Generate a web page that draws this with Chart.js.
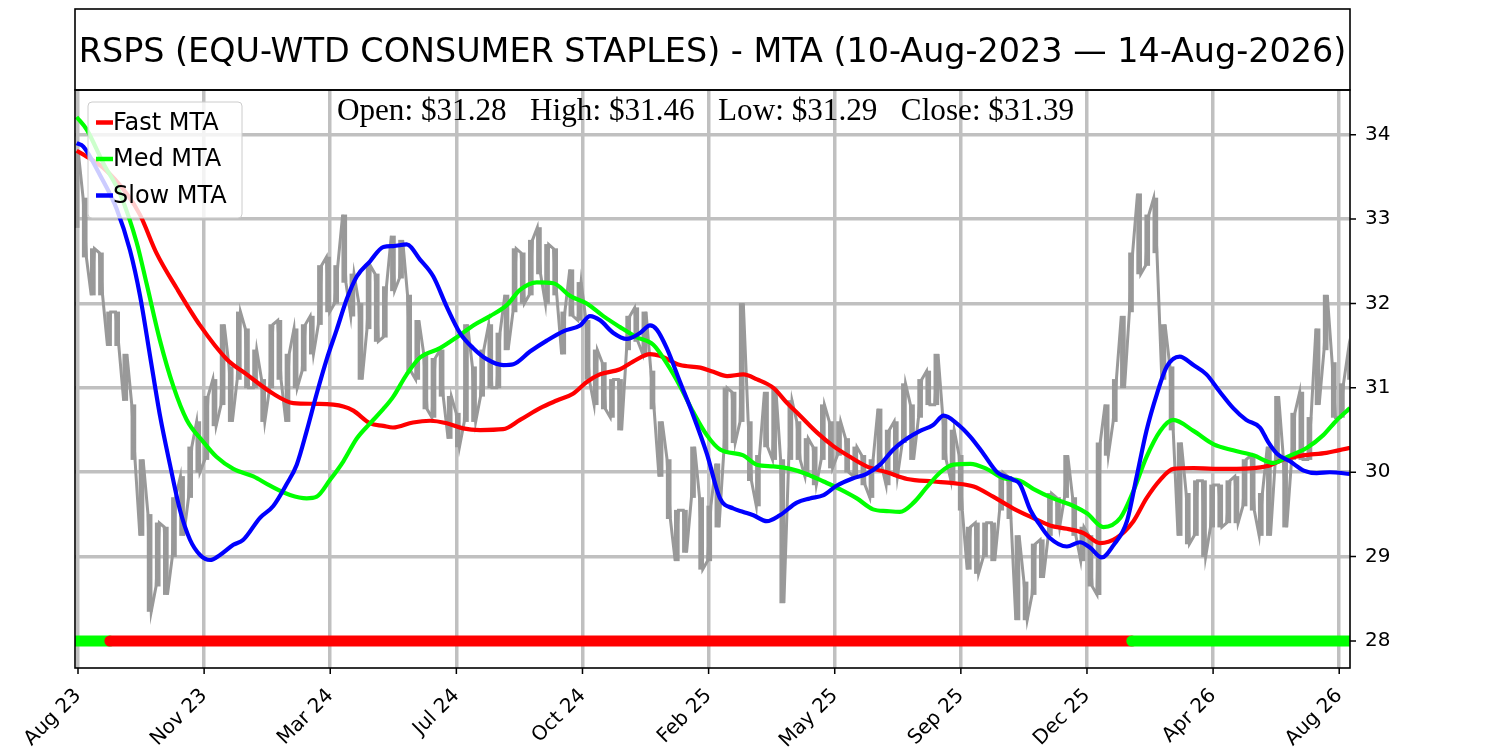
<!DOCTYPE html>
<html>
<head>
<meta charset="utf-8">
<script src="https://cdn.jsdelivr.net/npm/chart.js@4.4.0/dist/chart.umd.min.js"></script>
<style>
  html, body { margin: 0; padding: 0; background: #fff; }
  #wrap { width: 1500px; height: 750px; }
</style>
</head>
<body>
<div id="wrap"><canvas id="chart" width="1500" height="750"></canvas></div>
<script>
// x axis runs in weeks from 10-Aug-2023 (week 0) to 14-Aug-2026 (week 157)
const tickLabels = ['Aug 23', 'Nov 23', 'Mar 24', 'Jul 24', 'Oct 24', 'Feb 25', 'May 25', 'Sep 25', 'Dec 25', 'Apr 26', 'Aug 26'];
const tickWeeks = [0.17, 15.72, 31.27, 46.82, 62.37, 77.92, 93.47, 109.02, 124.57, 140.12, 155.67];
const priceTicks = [28, 29, 30, 31, 32, 33, 34];

// weekly price range (low / high), week 0..157
const weekLow = [
  32.9, 32.55, 32.1, 32.1, 31.5, 31.5, 30.85, 30.15, 29.25, 28.35,
  28.65, 28.55, 29.0, 29.25, 29.7, 30.0, 30.15, 30.55, 30.8, 30.6,
  31.1, 31.0, 31.0, 30.6, 31.0, 31.1, 30.6, 31.0, 31.2, 31.4,
  31.75, 31.9, 32.0, 32.25, 31.85, 31.1, 31.7, 31.55, 31.6, 32.15,
  32.3, 31.2, 31.1, 30.75, 30.65, 30.9, 30.4, 30.3, 30.6, 30.6,
  30.9, 31.0, 31.0, 31.45, 31.9, 32.0, 32.1, 32.35, 32.0, 32.1,
  31.4, 31.85, 31.8, 31.1, 30.8, 30.75, 30.65, 30.5, 31.45, 31.55,
  31.4, 30.75, 29.95, 29.45, 28.95, 29.05, 29.7, 28.85, 28.95, 29.35,
  30.25, 30.35, 30.6, 29.9, 29.6, 30.3, 30.15, 28.45, 30.15, 30.15,
  29.95, 29.85, 30.15, 30.05, 30.2, 30.0, 29.95, 29.85, 29.7, 30.1,
  29.85, 29.95, 30.35, 30.15, 30.65, 30.8, 30.8, 30.15, 29.9, 29.55,
  28.85, 28.8, 29.0, 28.95, 29.55, 29.45, 28.25, 28.25, 28.55, 28.75,
  29.25, 29.35, 29.7, 29.25, 28.95, 28.65, 28.55, 30.2, 30.6, 31.0,
  31.9, 32.35, 32.45, 32.6, 31.1, 30.5, 29.25, 29.15, 29.25, 29.0,
  29.35, 29.35, 29.4, 29.4, 29.6, 29.55, 29.25, 29.25, 30.15, 29.35,
  30.15, 30.15, 30.15, 30.8, 31.45, 30.65, 30.65, 31.1
];
const weekHigh = [
  33.8, 33.25, 32.65, 32.6, 31.9, 31.9, 31.4, 30.8, 30.15, 29.5,
  29.4, 29.35, 29.7, 29.95, 30.3, 30.6, 30.9, 31.1, 31.75, 31.25,
  31.9, 31.7, 31.45, 31.1, 31.75, 31.8, 31.4, 31.7, 31.75, 31.85,
  32.45, 32.55, 32.45, 33.05, 32.35, 32.0, 32.45, 32.35, 32.2, 32.8,
  32.75, 32.1, 31.8, 31.4, 31.35, 31.45, 30.9, 30.7, 31.75, 31.25,
  31.45, 31.75, 31.65, 32.1, 32.65, 32.6, 32.75, 32.9, 32.7, 32.65,
  31.9, 32.4, 32.25, 31.8, 31.45, 31.3, 31.1, 31.1, 31.85, 31.95,
  31.9, 31.2, 30.6, 30.15, 29.55, 29.55, 30.3, 29.7, 29.6, 30.1,
  31.0, 30.95, 32.0, 30.6, 30.2, 30.95, 31.0, 30.15, 30.85, 30.6,
  30.4, 30.3, 30.8, 30.6, 30.6, 30.4, 30.3, 30.2, 30.15, 30.75,
  30.5, 30.6, 31.05, 30.8, 31.1, 31.2, 31.4, 30.65, 30.5, 30.2,
  29.35, 29.4, 29.4, 29.4, 30.0, 29.95, 29.25, 28.7, 29.15, 29.2,
  29.75, 29.7, 30.2, 29.7, 29.35, 29.25, 30.35, 30.8, 31.1, 31.85,
  32.6, 33.3, 33.05, 33.25, 31.75, 31.25, 30.35, 29.75, 29.9, 29.9,
  29.85, 29.85, 29.9, 29.95, 30.15, 30.2, 29.75, 30.3, 30.9, 30.15,
  30.7, 30.95, 30.65, 31.7, 32.1, 31.3, 31.05, 31.45
];

// moving trend averages, sampled at week positions
const fastWeek = [0, 1.25, 3.26, 6.18, 7.82, 9.88, 12.34, 15.22, 18.51, 20.97, 24.25, 26.72, 29.6, 32.89, 34.12, 36.18, 37.82, 39.0, 41.48, 43.58,
  45.64, 47.64, 49.74, 52.58, 54.67, 57.14, 59.2, 61.2, 62.9, 64.5, 67.0, 68.6, 70.7, 71.9, 74.4, 76.9, 78.5, 80.2, 82.2, 83.9,
  85.9, 87.6, 89.2, 91.3, 93.3, 95.4, 97.4, 99.9, 102.4, 105.6, 108.1, 110.6, 113.0, 115.5, 117.9, 120.0, 122.1, 124.1, 126.2, 128.2,
  130.3, 131.9, 133.6, 135.2, 137.7, 140.1, 143.0, 146.7, 148.8, 151.2, 154.1, 157];
const fastMTA = [33.81, 33.74, 33.61, 33.3, 33.05, 32.59, 32.18, 31.74, 31.34, 31.16, 30.93, 30.82, 30.81, 30.78, 30.73, 30.58, 30.55, 30.53, 30.59, 30.61,
  30.58, 30.52, 30.5, 30.51, 30.62, 30.76, 30.85, 30.93, 31.07, 31.16, 31.22, 31.31, 31.4, 31.38, 31.27, 31.24, 31.19, 31.14, 31.16, 31.1,
  31.0, 30.82, 30.67, 30.47, 30.31, 30.18, 30.07, 30.0, 29.92, 29.89, 29.87, 29.83, 29.71, 29.57, 29.46, 29.37, 29.33, 29.28, 29.16, 29.22,
  29.42, 29.69, 29.91, 30.04, 30.05, 30.04, 30.04, 30.07, 30.15, 30.2, 30.23, 30.29];

const medWeek = [0, 1.25, 3.3, 5.35, 7.41, 8.64, 10.28, 11.92, 13.58, 15.62, 17.27, 19.32, 21.79, 23.85, 26.31, 28.37, 29.6, 31.25, 32.89, 34.54,
  36.18, 37.82, 39.0, 40.7, 42.34, 44.8, 46.87, 48.9, 50.97, 53.03, 54.67, 56.73, 58.78, 60.84, 62.9, 64.94, 67.0, 69.06, 71.1, 72.76,
  74.4, 76.04, 77.7, 79.33, 82.2, 83.86, 85.9, 88.0, 90.0, 92.1, 94.1, 96.2, 98.2, 99.9, 101.5, 103.2, 104.8, 106.5, 108.1, 110.2,
  112.2, 114.3, 116.3, 118.0, 120.4, 122.9, 124.6, 126.6, 128.7, 130.3, 131.9, 133.6, 135.2, 137.7, 140.2, 142.6, 145.1, 147.6, 149.2, 151.7,
  153.7, 155.4, 157];
const medMTA = [34.21, 34.06, 33.66, 33.3, 32.72, 32.23, 31.56, 31.02, 30.62, 30.36, 30.18, 30.04, 29.95, 29.84, 29.73, 29.69, 29.71, 29.91, 30.13, 30.4,
  30.58, 30.75, 30.89, 31.16, 31.36, 31.47, 31.6, 31.74, 31.85, 31.98, 32.16, 32.25, 32.24, 32.09, 32.0, 31.85, 31.72, 31.6, 31.51, 31.29,
  31.02, 30.71, 30.44, 30.27, 30.2, 30.09, 30.07, 30.04, 29.98, 29.89, 29.8, 29.69, 29.56, 29.54, 29.53, 29.64, 29.82, 30.0, 30.09, 30.1,
  30.04, 29.93, 29.9, 29.8, 29.69, 29.6, 29.51, 29.35, 29.46, 29.78, 30.18, 30.49, 30.62, 30.49, 30.33, 30.26, 30.2, 30.11, 30.18, 30.29,
  30.44, 30.62, 30.76];

const slowWeek = [0, 0.83, 2.89, 4.94, 6.58, 7.82, 9.05, 10.28, 11.51, 12.75, 13.98, 15.22, 16.45, 17.68, 19.32, 20.55, 22.61, 24.25, 25.9, 27.14,
  28.37, 29.6, 30.84, 32.07, 33.3, 34.54, 36.18, 37.82, 39.05, 40.7, 42.34, 43.98, 45.64, 47.27, 48.9, 50.57, 52.6, 53.85, 55.9, 57.97,
  60.0, 62.07, 63.3, 64.54, 66.18, 67.83, 69.47, 70.7, 71.53, 72.76, 74.4, 76.04, 77.7, 79.33, 80.97, 82.2, 83.44, 85.1, 86.7, 88.8,
  90.4, 92.1, 93.7, 95.8, 97.4, 99.06, 100.7, 102.4, 104.0, 105.6, 106.9, 108.5, 110.2, 111.8, 113.5, 115.5, 116.3, 117.6, 118.8, 120.0,
  122.1, 123.7, 124.9, 126.4, 127.8, 129.5, 130.7, 131.9, 133.2, 134.4, 136.0, 137.7, 139.3, 140.9, 142.6, 144.2, 145.9, 146.9, 148.0, 149.6,
  151.3, 152.9, 154.5, 157];
const slowMTA = [33.9, 33.86, 33.52, 33.12, 32.63, 32.09, 31.38, 30.67, 30.09, 29.55, 29.2, 29.02, 28.96, 29.02, 29.14, 29.2, 29.46, 29.6, 29.86, 30.09,
  30.49, 30.93, 31.34, 31.69, 32.05, 32.32, 32.5, 32.67, 32.68, 32.7, 32.52, 32.32, 31.96, 31.65, 31.47, 31.34, 31.27, 31.28, 31.43, 31.56,
  31.67, 31.74, 31.85, 31.8, 31.65, 31.58, 31.65, 31.74, 31.69, 31.47, 31.07, 30.67, 30.22, 29.69, 29.57, 29.53, 29.49, 29.42, 29.49, 29.64,
  29.69, 29.73, 29.84, 29.93, 29.98, 30.09, 30.27, 30.4, 30.49, 30.56, 30.67, 30.58, 30.42, 30.22, 30.0, 29.91, 29.86, 29.55, 29.37, 29.22,
  29.12, 29.17, 29.11, 28.99, 29.13, 29.42, 29.95, 30.49, 30.93, 31.25, 31.37, 31.27, 31.16, 30.96, 30.76, 30.62, 30.53, 30.36, 30.22, 30.13,
  30.02, 29.99, 30.0, 29.98];

// trend signal strip along the 28 line
const signalFrom = [-0.2, 4.1, 130.1];
const signalTo = [4.1, 130.1, 157.0];
const signalState = ['up', 'down', 'up'];
const signalLevel = 28;

const lastBar = { open: 31.28, high: 31.46, low: 31.29, close: 31.39 };

function zip(xs, ys) {
  const n = Math.min(xs.length, ys.length);
  const out = [];
  for (let i = 0; i < n; i++) out.push({ x: xs[i], y: ys[i] });
  return out;
}

// each week drawn as a near-vertical low/high stroke, alternating direction
const pricePts = [];
weekLow.forEach(function(lo, w) {
  const hi = weekHigh[w];
  if (w % 2 === 0) pricePts.push({ x: w - 0.2, y: lo }, { x: w + 0.2, y: hi });
  else pricePts.push({ x: w - 0.2, y: hi }, { x: w + 0.2, y: lo });
});
const priceRanges = weekLow.map(function(lo, w) { return { x: w, y: [lo, weekHigh[w]] }; });

const COL = { fast: '#ff0000', med: '#00ff00', slow: '#0000ff', price: '#999999', up: '#00ff00', down: '#ff0000' };
const GRID = '#c0c0c0';

function mtaSet(label, pts, color, order) {
  return {
    label: label, data: pts, borderColor: color, borderWidth: 4.2,
    pointRadius: 0, fill: false, cubicInterpolationMode: 'monotone',
    clip: 0, order: order
  };
}

const datasets = [
  mtaSet('Slow MTA', zip(slowWeek, slowMTA), COL.slow, 1),
  mtaSet('Med MTA', zip(medWeek, medMTA), COL.med, 2),
  mtaSet('Fast MTA', zip(fastWeek, fastMTA), COL.fast, 3)
];
signalState.forEach(function(s, i) {
  datasets.push({
    label: 'signal', data: [{ x: signalFrom[i], y: signalLevel }, { x: signalTo[i], y: signalLevel }],
    borderColor: COL[s], borderWidth: 11, borderCapStyle: 'round', pointRadius: 0,
    clip: 0, order: 10 - i
  });
});
datasets.push({
  label: 'Price', data: pricePts, borderColor: COL.price, borderWidth: 3,
  pointRadius: 0, tension: 0, clip: 0, order: 20
});
datasets.push({
  type: 'bar', label: 'Range', data: priceRanges, backgroundColor: COL.price,
  borderWidth: 0, barThickness: 5, grouped: false, clip: 0, order: 21
});

const framePlugin = {
  id: 'frame',
  afterDatasetsDraw(chart) {
    const ctx = chart.ctx;
    const a = chart.chartArea;
    const sx = chart.scales.x, sy = chart.scales.y;
    ctx.save();
    // plot frame
    ctx.strokeStyle = '#000';
    ctx.lineWidth = 1.6;
    ctx.strokeRect(a.left, a.top, a.right - a.left, a.bottom - a.top);
    // outward tick marks
    ctx.lineWidth = 1.5;
    ctx.beginPath();
    tickWeeks.forEach(function(v) {
      const px = sx.getPixelForValue(v);
      ctx.moveTo(px, a.bottom);
      ctx.lineTo(px, a.bottom + 6);
    });
    priceTicks.forEach(function(v) {
      const py = sy.getPixelForValue(v);
      ctx.moveTo(a.right, py);
      ctx.lineTo(a.right + 6, py);
    });
    ctx.stroke();
    // title box
    ctx.lineWidth = 1.6;
    ctx.strokeRect(a.left, 9, a.right - a.left, a.top - 9);
    ctx.fillStyle = '#000';
    ctx.font = '33.4px "DejaVu Sans"';
    ctx.textAlign = 'center';
    ctx.textBaseline = 'alphabetic';
    ctx.fillText('RSPS (EQU-WTD CONSUMER STAPLES) - MTA (10-Aug-2023 \u2014 14-Aug-2026)', (a.left + a.right) / 2, 62);
    // last bar summary
    ctx.font = '31.2px "Liberation Serif"';
    const txt = 'Open: $' + lastBar.open.toFixed(2) + '   High: $' + lastBar.high.toFixed(2) +
      '   Low: $' + lastBar.low.toFixed(2) + '   Close: $' + lastBar.close.toFixed(2);
    ctx.fillText(txt, 705.5, 120);
    // legend
    const lx = 88, ly = 102, lw = 154, lh = 116;
    ctx.beginPath();
    ctx.roundRect(lx, ly, lw, lh, 4);
    ctx.fillStyle = 'rgba(255,255,255,0.8)';
    ctx.fill();
    ctx.strokeStyle = '#cccccc';
    ctx.lineWidth = 1;
    ctx.stroke();
    const items = [['Fast MTA', COL.fast], ['Med MTA', COL.med], ['Slow MTA', COL.slow]];
    ctx.font = '24px "DejaVu Sans"';
    ctx.textAlign = 'left';
    ctx.textBaseline = 'middle';
    items.forEach(function(it, i) {
      const y = 122.5 + i * 36.5;
      ctx.strokeStyle = it[1];
      ctx.lineWidth = 4.5;
      ctx.beginPath();
      ctx.moveTo(96, y);
      ctx.lineTo(113, y);
      ctx.stroke();
      ctx.fillStyle = '#000';
      ctx.fillText(it[0], 113, y + 1);
    });
    ctx.restore();
  }
};

new Chart(document.getElementById('chart'), {
  type: 'line',
  data: { datasets: datasets },
  options: {
    responsive: false,
    animation: false,
    devicePixelRatio: 1,
    layout: { padding: { left: 75, top: 90, right: 0, bottom: 0 } },
    plugins: { legend: { display: false }, tooltip: { enabled: false } },
    scales: {
      x: {
        type: 'linear', min: -0.2, max: 157.0, offset: false,
        afterBuildTicks: function(s) { s.ticks = tickWeeks.map(function(v) { return { value: v }; }); },
        afterFit: function(s) { s.height = 82; },
        grid: { color: GRID, lineWidth: 3.5, drawTicks: false, offset: false },
        border: { display: false },
        ticks: {
          autoSkip: false, maxRotation: 45, minRotation: 45, padding: 16, color: '#000',
          font: { family: 'DejaVu Sans', size: 20 },
          callback: function(v, i) { return tickLabels[i]; }
        }
      },
      y: {
        type: 'linear', position: 'right', min: 27.68, max: 34.53,
        afterBuildTicks: function(s) { s.ticks = priceTicks.map(function(v) { return { value: v }; }); },
        afterFit: function(s) { s.width = 150; },
        grid: { color: GRID, lineWidth: 3.5, drawTicks: false },
        border: { display: false },
        ticks: {
          padding: 15, color: '#000',
          font: { family: 'DejaVu Sans', size: 20 },
          callback: function(v) { return String(v); }
        }
      }
    }
  },
  plugins: [framePlugin]
});
</script>
</body>
</html>
